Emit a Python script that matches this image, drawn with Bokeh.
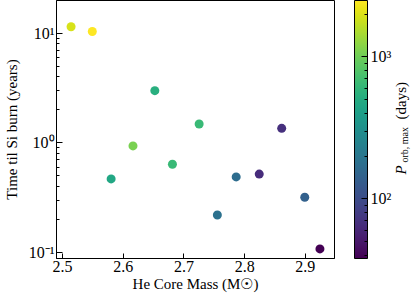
from bokeh.plotting import figure
from bokeh.layouts import row
from bokeh.models import (ColumnDataSource, LogColorMapper, ColorBar, FixedTicker,
                          Label, Range1d)
from bokeh.palettes import Viridis256
from bokeh.embed import file_html
from bokeh.resources import INLINE

# ---- data ----
he_core_mass = [2.514, 2.549, 2.580, 2.616, 2.652, 2.681, 2.725, 2.755, 2.786, 2.824, 2.861, 2.899, 2.924]
time_til_si_burn = [11.5, 10.4, 0.47, 0.94, 3.0, 0.64, 1.49, 0.22, 0.49, 0.52, 1.36, 0.32, 0.108]
p_orb_max = [1950, 2500, 470, 1080, 530, 650, 650, 180, 170, 65, 68, 140, 38]

x_ticks = [2.5, 2.6, 2.7, 2.8, 2.9]
y_ticks = [0.1, 1, 10]
y_tick_labels = {0.1: "10⁻¹", 1: "10⁰", 10: "10¹"}
cb_ticks = [100, 1000]
cb_tick_labels = {100: "10²", 1000: "10³"}

FONT = "Liberation Serif"
FH = 258

src = ColumnDataSource(dict(x=he_core_mass, y=time_til_si_burn, c=p_orb_max))
mapper = LogColorMapper(palette=Viridis256, low=min(p_orb_max), high=max(p_orb_max))

p = figure(frame_width=278, frame_height=FH, y_axis_type="log",
           x_range=Range1d(2.490, 2.948), y_range=Range1d(0.0883, 19.95),
           output_backend="svg", toolbar_location=None,
           min_border_left=47, min_border_top=0, min_border_right=7, min_border_bottom=30)
p.grid.visible = False
p.outline_line_color = "black"
p.outline_line_width = 1

p.scatter("x", "y", source=src, size=9,
          fill_color={"field": "c", "transform": mapper}, line_color=None)

xa = p.xaxis[0]
xa.ticker = FixedTicker(ticks=x_ticks, minor_ticks=[])
xa.major_tick_in = 5
xa.major_tick_out = 0
xa.minor_tick_in = 0
xa.minor_tick_out = 0
xa.major_label_standoff = 2
xa.axis_label = "He Core Mass (M☉)"
xa.axis_label_standoff = 1

minor_y = [0.2, 0.3, 0.4, 0.5, 0.6, 0.7, 0.8, 0.9, 2, 3, 4, 5, 6, 7, 8, 9]
ya = p.yaxis[0]
ya.ticker = FixedTicker(ticks=y_ticks, minor_ticks=minor_y)
ya.major_label_overrides = y_tick_labels
ya.major_tick_in = 6
ya.major_tick_out = 0
ya.minor_tick_in = 3
ya.minor_tick_out = 0
ya.major_label_standoff = 2
ya.axis_label = "Time til Si burn (years)"
ya.axis_label_standoff = 6

for ax in (xa, ya):
    ax.axis_line_color = "black"
    ax.major_tick_line_color = "black"
    ax.minor_tick_line_color = "black"
    ax.major_label_text_font = FONT
    ax.major_label_text_font_size = "16px"
    ax.major_label_text_color = "black"
    ax.axis_label_text_font = FONT
    ax.axis_label_text_font_size = "15px"
    ax.axis_label_text_font_style = "normal"
    ax.axis_label_text_color = "black"

# ---- colour bar figure (its frame holds the bar and its title) ----
CBW = 70
cbf = figure(width=CBW, frame_height=FH, x_range=Range1d(0, CBW), y_range=Range1d(0, FH),
             output_backend="svg", toolbar_location=None,
             x_axis_location=None, y_axis_location=None,
             min_border_left=0, min_border_right=0, min_border_top=0, min_border_bottom=30)
cbf.grid.visible = False
cbf.outline_line_color = None

cb_minor = [40, 50, 60, 70, 80, 90, 200, 300, 400, 500, 600, 700, 800, 900, 2000]
cb = ColorBar(color_mapper=mapper, width=13, height=FH, location=(13, 0),
              orientation="vertical",
              ticker=FixedTicker(ticks=cb_ticks, minor_ticks=cb_minor),
              major_label_overrides=cb_tick_labels,
              major_label_text_font=FONT, major_label_text_font_size="16px",
              major_label_text_color="black",
              major_tick_in=6, major_tick_out=0, minor_tick_in=3, minor_tick_out=0,
              major_tick_line_color="black", minor_tick_line_color="black",
              bar_line_color="black", label_standoff=3,
              padding=0, margin=0,
              background_fill_color=None, border_line_color=None)
cbf.add_layout(cb, "center")

lab_kw = dict(angle=90, angle_units="deg", text_font=FONT, text_color="black",
              text_align="left", text_baseline="middle")
cbf.add_layout(Label(x=59, y=84, text="P", text_font_size="15px",
                     text_font_style="italic", **lab_kw))
cbf.add_layout(Label(x=63, y=96, text="orb, max", text_font_size="10px", **lab_kw))
cbf.add_layout(Label(x=59, y=139, text="(days)", text_font_size="15px", **lab_kw))

layout = row(p, cbf, spacing=0)
open("out.html", "w").write(file_html(layout, INLINE))
